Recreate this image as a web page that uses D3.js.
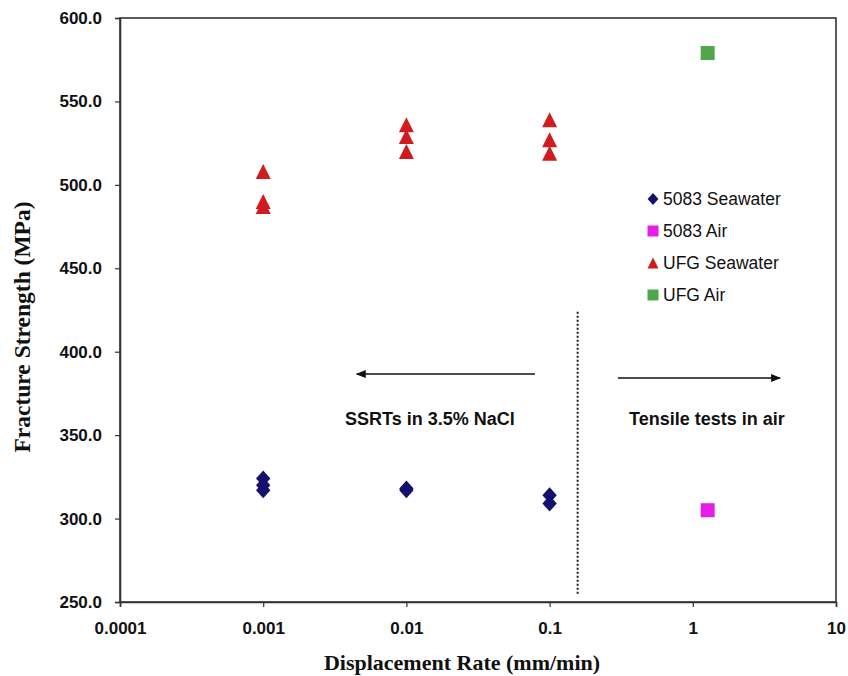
<!DOCTYPE html>
<html lang="en">
<head>
<meta charset="UTF-8">
<title>Fracture Strength vs Displacement Rate</title>
<script src="https://d3js.org/d3.v7.min.js"></script>
<style>
  body { margin: 0; background: #fff; }
  svg { display: block; }
</style>
</head>
<body>
<svg id="chart"></svg>
<script>
// displacement rates (mm/min) and fracture strengths (MPa)
const seawater5083Rate = [0.001, 0.001, 0.001, 0.01, 0.01, 0.1, 0.1];
const seawater5083Val  = [324, 320, 317, 318, 317, 314, 309];
const air5083Rate = [1.27];
const air5083Val  = [305];
const seawaterUfgRate = [0.001, 0.001, 0.001, 0.01, 0.01, 0.01, 0.1, 0.1, 0.1];
const seawaterUfgVal  = [508, 490, 487, 536, 529, 520, 539, 527, 519];
const airUfgRate = [1.27];
const airUfgVal  = [579];

const xTicks = [0.0001, 0.001, 0.01, 0.1, 1, 10];
const xTickLabels = ["0.0001", "0.001", "0.01", "0.1", "1", "10"];
const yTicks = [250, 300, 350, 400, 450, 500, 550, 600];

const seriesNames = ["5083 Seawater", "5083 Air", "UFG Seawater", "UFG Air"];

const width = 848, height = 676;
const margin = {top: 18, right: 12, bottom: 74, left: 120};

const svg = d3.select("#chart").attr("width", width).attr("height", height);

const x = d3.scaleLog().domain([0.0001, 10]).range([margin.left, width - margin.right]);
const y = d3.scaleLinear().domain([250, 600]).range([height - margin.bottom, margin.top]);

const axisColor = "#333";

// frame
svg.append("rect")
  .attr("x", x(0.0001)).attr("y", y(600))
  .attr("width", x(10) - x(0.0001)).attr("height", y(250) - y(600))
  .attr("fill", "none").attr("stroke", axisColor).attr("stroke-width", 1.6);

// axes
const xAxis = svg.append("g")
  .attr("transform", `translate(0,${y(250)})`)
  .call(d3.axisBottom(x).tickValues(xTicks).tickFormat((d, i) => xTickLabels[i]).tickSize(5).tickPadding(15));
const yAxis = svg.append("g")
  .attr("transform", `translate(${x(0.0001)},0)`)
  .call(d3.axisLeft(y).tickValues(yTicks).tickFormat(d3.format(".1f")).tickSize(5).tickPadding(13));

[xAxis, yAxis].forEach(g => {
  g.select(".domain").attr("stroke", axisColor).attr("stroke-width", 1.6);
  g.selectAll(".tick line").attr("stroke", axisColor).attr("stroke-width", 1.2);
  g.selectAll(".tick text")
    .attr("fill", "#111")
    .style("font-family", "Liberation Sans, Arial, sans-serif")
    .style("font-weight", "bold")
    .style("font-size", "17px");
});

// axis titles
svg.append("text")
  .attr("x", 462).attr("y", 670)
  .attr("text-anchor", "middle")
  .style("font-family", "Liberation Serif, Times New Roman, serif")
  .style("font-weight", "bold").style("font-size", "22px")
  .attr("fill", "#111")
  .text("Displacement Rate (mm/min)");

svg.append("text")
  .attr("transform", "translate(30,327) rotate(-90)")
  .attr("text-anchor", "middle")
  .style("font-family", "Liberation Serif, Times New Roman, serif")
  .style("font-weight", "bold").style("font-size", "23.5px")
  .attr("fill", "#111")
  .text("Fracture Strength (MPa)");

// marker shapes
const shapes = {
  diamond: s => `M0,${-s}L${s * 0.9},0L0,${s}L${-s * 0.9},0Z`,
  square: s => `M${-s},${-s}H${s}V${s}H${-s}Z`,
  triangle: s => `M0,${-s}L${s},${s}H${-s}Z`
};

const series = [
  {name: seriesNames[0], rate: seawater5083Rate, val: seawater5083Val, shape: "diamond", size: 8, color: "#14106e"},
  {name: seriesNames[1], rate: air5083Rate, val: air5083Val, shape: "square", size: 7, color: "#e51de9"},
  {name: seriesNames[2], rate: seawaterUfgRate, val: seawaterUfgVal, shape: "triangle", size: 7.5, color: "#d01c1f"},
  {name: seriesNames[3], rate: airUfgRate, val: airUfgVal, shape: "square", size: 7, color: "#4fa64b"}
];

series.forEach(s => {
  svg.append("g").selectAll("path")
    .data(s.rate.map((r, i) => [r, s.val[i]]))
    .join("path")
    .attr("transform", d => `translate(${x(d[0])},${y(d[1])})`)
    .attr("d", shapes[s.shape](s.size))
    .attr("fill", s.color);
});

// separator between seawater and air tests
svg.append("line")
  .attr("x1", x(0.157)).attr("x2", x(0.157))
  .attr("y1", y(424)).attr("y2", y(254))
  .attr("stroke", "#222").attr("stroke-width", 2)
  .attr("stroke-dasharray", "2,2");

// arrows and region labels
svg.append("defs").append("marker")
  .attr("id", "arrowhead")
  .attr("viewBox", "0 0 10 10").attr("refX", 9).attr("refY", 5)
  .attr("markerWidth", 10).attr("markerHeight", 10)
  .attr("markerUnits", "userSpaceOnUse")
  .attr("orient", "auto")
  .append("path").attr("d", "M0,1L10,5L0,9Z").attr("fill", "#111");

const arrows = [
  {from: [0.079, 386.6], to: [0.0045, 386.6]},
  {from: [0.30, 384.2], to: [4.07, 384.2]}
];
svg.selectAll(".arrow")
  .data(arrows)
  .join("line")
  .attr("class", "arrow")
  .attr("x1", d => x(d.from[0])).attr("y1", d => y(d.from[1]))
  .attr("x2", d => x(d.to[0])).attr("y2", d => y(d.to[1]))
  .attr("stroke", "#111").attr("stroke-width", 1.5)
  .attr("marker-end", "url(#arrowhead)");

const regionLabels = [
  {text: "SSRTs in 3.5% NaCl", at: [0.0146, 356]},
  {text: "Tensile tests in air", at: [1.256, 356]}
];
svg.selectAll(".region")
  .data(regionLabels)
  .join("text")
  .attr("class", "region")
  .attr("x", d => x(d.at[0])).attr("y", d => y(d.at[1]))
  .attr("text-anchor", "middle")
  .style("font-family", "Liberation Sans, Arial, sans-serif")
  .style("font-weight", "bold").style("font-size", "18px")
  .attr("fill", "#111")
  .text(d => d.text);

// legend
const legend = svg.append("g").attr("transform", "translate(653,199)");
const rows = legend.selectAll("g")
  .data(series)
  .join("g")
  .attr("transform", (d, i) => `translate(0,${i * 32})`);
rows.append("path")
  .attr("d", d => shapes[d.shape](d.shape === "diamond" ? 6 : 5.5))
  .attr("fill", d => d.color);
rows.append("text")
  .attr("x", 10).attr("y", 6)
  .style("font-family", "Liberation Sans, Arial, sans-serif")
  .style("font-size", "17.5px")
  .attr("fill", "#111")
  .text(d => d.name);
</script>
</body>
</html>
